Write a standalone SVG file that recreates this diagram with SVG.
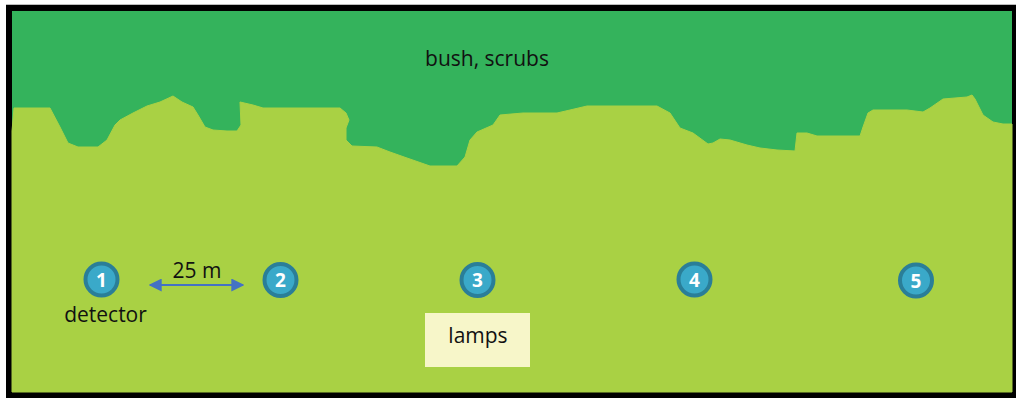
<svg xmlns="http://www.w3.org/2000/svg" width="1016" height="398" viewBox="0 0 1016 398">
  <style>
    .label { font-family: "Open Sans", "Noto Sans", "Liberation Sans", sans-serif; fill: #111; text-anchor: middle; }
    .num { font-family: "Open Sans", "Noto Sans", "Liberation Sans", sans-serif; font-weight: bold; font-size: 19px; fill: #ffffff; text-anchor: middle; }
    .spot { fill: #3AA9C9; stroke: #2A7E98; stroke-width: 4; }
  </style>
  <defs>
    <marker id="head-end" viewBox="0 0 10 10" refX="9" refY="5" markerWidth="13" markerHeight="13" markerUnits="userSpaceOnUse" orient="0">
      <path d="M0,0 L10,5 L0,10 Z" fill="#4472C4"/>
    </marker>
    <marker id="head-start" viewBox="0 0 10 10" refX="1" refY="5" markerWidth="13" markerHeight="13" markerUnits="userSpaceOnUse" orient="0">
      <path d="M10,0 L0,5 L10,10 Z" fill="#4472C4"/>
    </marker>
  </defs>

  <!-- frame -->
  <rect x="0" y="0" width="1016" height="398" fill="#ffffff"/>
  <line x1="6" y1="4.5" x2="1016" y2="4.5" stroke="#bdbdbd" stroke-width="1"/>
  <rect x="6" y="5" width="1010" height="393" fill="#000000"/>

  <!-- bush band -->
  <rect x="12" y="11" width="1000" height="381" fill="#34B35C"/>

  <!-- open meadow below the bush line -->
  <path fill="#A9D144" stroke="#A9D144" stroke-width="1" stroke-linejoin="round"
    d="M12,392 L12,131 L14,108 L50,108 L60,127 L68,143 L78,147 L98,147 L107,140 L115,125 L120,120 L133,113 L147,106 L160,102 L173,96 L182,102 L193,107 L198,115 L205,127 L213,130 L227,131 L237,131 L241,125 L240,102 L253,105 L263,108 L340,108 L346,113 L349,120 L346,128 L346,140 L352,146 L377,147 L390,152 L407,158 L430,166 L457,166 L465,157 L470,140 L477,132 L493,125 L500,115 L523,113 L557,113 L570,110 L587,106 L657,106 L670,113 L680,128 L693,133 L708,144 L713,143 L720,139 L730,140 L747,145 L760,148 L777,150 L795,151 L797,133 L807,133 L817,136 L860,136 L863,127 L868,113 L873,110 L907,110 L923,112 L930,108 L943,99 L967,97 L972,95 L975,99 L983,115 L993,122 L1003,124 L1012,124 L1012,392 Z"/>

  <g id="bush-label">
    <text class="label" x="487" y="66" font-size="21">bush, scrubs</text>
  </g>

  <!-- connectors -->
  <g id="connectors">
    <line x1="150" y1="285" x2="243" y2="285" stroke="#4472C4" stroke-width="2" marker-start="url(#head-start)" marker-end="url(#head-end)"/>
    <text class="label" x="197" y="278" font-size="21">25 m</text>
  </g>

  <!-- detector positions -->
  <g id="detector-1">
    <circle class="spot" cx="101.5" cy="279.5" r="16"/>
    <text class="num" x="101.5" y="286.5">1</text>
    <text class="label" x="105.5" y="322" font-size="21">detector</text>
  </g>
  <g id="detector-2">
    <circle class="spot" cx="280.5" cy="280" r="16"/>
    <text class="num" x="280.5" y="287">2</text>
  </g>
  <g id="detector-3">
    <circle class="spot" cx="477.5" cy="280" r="16"/>
    <text class="num" x="477.5" y="287">3</text>
  </g>
  <g id="detector-4">
    <circle class="spot" cx="694.5" cy="279.5" r="16"/>
    <text class="num" x="694.5" y="286.5">4</text>
  </g>
  <g id="detector-5">
    <circle class="spot" cx="916" cy="280.5" r="16"/>
    <text class="num" x="916" y="287.5">5</text>
  </g>

  <!-- lamps -->
  <g id="lamps">
    <rect x="425" y="313" width="105" height="54" fill="#F7F6C9"/>
    <text class="label" x="478" y="343" font-size="21">lamps</text>
  </g>
</svg>
